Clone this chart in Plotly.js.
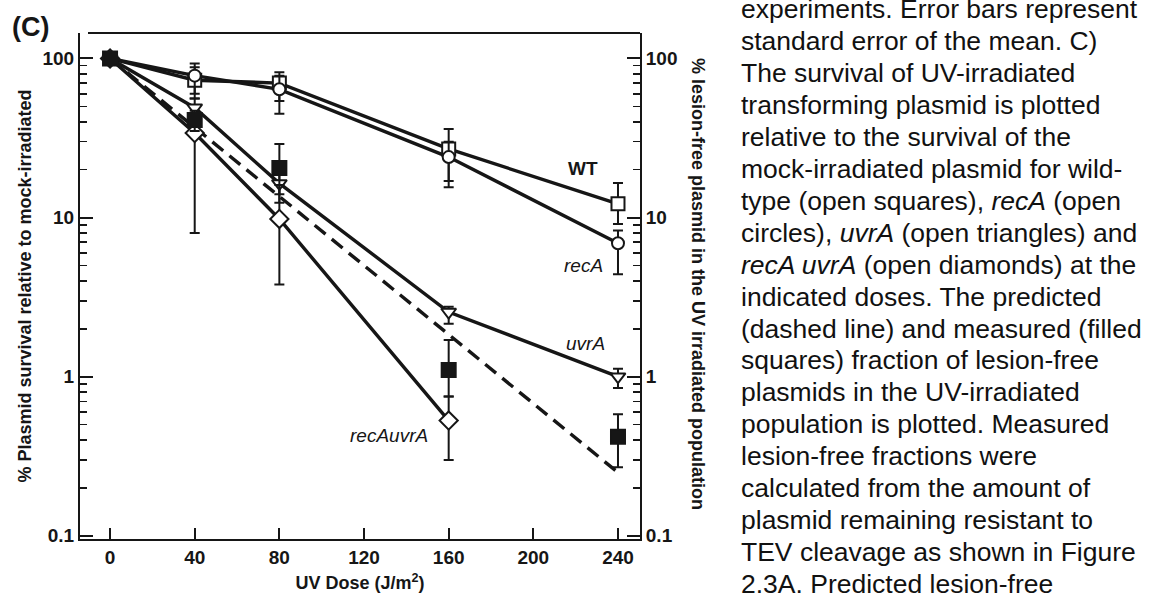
<!DOCTYPE html>
<html>
<head>
<meta charset="utf-8">
<script src="https://cdn.plot.ly/plotly-3.0.1.min.js"></script>
<style>
  html, body { margin: 0; padding: 0; background: #fff; }
  #chart { width: 1152px; height: 594px; }
</style>
</head>
<body>
<div id="chart"></div>
<script>
// ---------- data ----------
const doses = [0, 40, 80, 160, 240];
const dosesDouble = [0, 40, 80, 160];
const predictedDoses = [0, 240];

const wtSurvival = [100, 73, 70, 27, 12.2];
const wtUpper    = [104, 88, 82, 36, 16.5];
const wtLower    = [96, 60, 54, 17, 9.1];

const recASurvival = [100, 78, 64, 24, 6.9];
const recAUpper    = [104, 93, 78, 30, 8.3];
const recALower    = [96, 56, 45, 15.5, 4.4];

const uvrASurvival = [100, 49, 16.4, 2.55, 1.0];
const uvrAUpper    = [104, 56, 19, 2.75, 1.12];
const uvrALower    = [96, 43, 12.4, 2.15, 0.85];

const recAuvrASurvival = [100, 34, 9.8, 0.53];
const recAuvrAUpper    = [104, 45, 16, 0.75];
const recAuvrALower    = [96, 8, 3.8, 0.3];

const measuredLesionFree = [100, 41, 20.5, 1.1, 0.42];
const measuredUpper      = [104, 47, 29, 1.7, 0.58];
const measuredLower      = [96, 35, 14, 0.75, 0.27];

const predictedLesionFree = [100, 0.25];

const xTickVals = [0, 40, 80, 120, 160, 200, 240];

const captionLines = [
  "experiments. Error bars represent",
  "standard error of the mean. C)",
  "The survival of UV-irradiated",
  "transforming plasmid is plotted",
  "relative to the survival of the",
  "mock-irradiated plasmid for wild-",
  "type (open squares), <i>recA</i> (open",
  "circles), <i>uvrA</i> (open triangles) and",
  "<i>recA uvrA</i> (open diamonds) at the",
  "indicated doses. The predicted",
  "(dashed line) and measured (filled",
  "squares) fraction of lesion-free",
  "plasmids in the UV-irradiated",
  "population is plotted. Measured",
  "lesion-free fractions were",
  "calculated from the amount of",
  "plasmid remaining resistant to",
  "TEV cleavage as shown in Figure",
  "2.3A. Predicted lesion-free"
];

// ---------- layout helpers ----------
const ML = 80, MR = 512, MT = 33, MB = 55, W = 1152, H = 594;
const PW = W - ML - MR, PH = H - MT - MB;
const px = x => (x - ML) / PW;
const py = y => (H - MB - y) / PH;

const FONT = "Liberation Sans, Arial, Helvetica, sans-serif";
const INK = "#161616";
const TXT = 19;

function errs(vals, up, lo) {
  return {
    type: 'data', symmetric: false,
    array: vals.map((v, i) => up[i] - v),
    arrayminus: vals.map((v, i) => v - lo[i]),
    color: INK, thickness: 2, width: 5
  };
}

function series(name, xs, ys, up, lo, symbol, size, fill, withLine) {
  return {
    name: name, x: xs, y: ys, type: 'scatter',
    mode: withLine ? 'lines+markers' : 'markers',
    line: { color: INK, width: 3.4 },
    marker: { symbol: symbol, size: size, color: fill, line: { color: INK, width: 2 } },
    error_y: errs(ys, up, lo),
    cliponaxis: false,
    showlegend: false
  };
}

const traces = [
  {
    name: 'predicted', x: predictedDoses, y: predictedLesionFree, type: 'scatter',
    mode: 'lines', line: { color: INK, width: 3.4, dash: '14px,8px' }, showlegend: false
  },
  series('WT', doses, wtSurvival, wtUpper, wtLower, 'square', 13, '#fff', true),
  series('recA', doses, recASurvival, recAUpper, recALower, 'circle', 12, '#fff', true),
  series('uvrA', doses, uvrASurvival, uvrAUpper, uvrALower, 'triangle-down', 13, '#fff', true),
  series('recAuvrA', dosesDouble, recAuvrASurvival, recAuvrAUpper, recAuvrALower, 'diamond', 14, '#fff', true),
  series('measured lesion-free', doses, measuredLesionFree, measuredUpper, measuredLower, 'square', 14, INK, false)
];

const annotations = [
  { text: '<b>(C)</b>', x: px(30), y: py(27), font: { size: 27 } },
  { text: '<b>WT</b>', x: px(583), y: py(168), font: { size: TXT } },
  { text: '<i>recA</i>', x: px(583), y: py(265), font: { size: TXT } },
  { text: '<i>uvrA</i>', x: px(585), y: py(343), font: { size: TXT } },
  { text: '<i>recAuvrA</i>', x: px(389), y: py(435), font: { size: TXT } },
  { text: '<b>% lesion-free plasmid in the UV irradiated population</b>', x: px(698), y: py(284),
    textangle: 90, font: { size: 18 } }
].map(a => Object.assign({ xref: 'paper', yref: 'paper', showarrow: false,
  xanchor: 'center', yanchor: 'middle' }, a, { font: Object.assign({ family: FONT, color: INK }, a.font) }));

captionLines.forEach((t, i) => {
  const baseline = 18.5 + i * 31.9;
  annotations.push({
    text: t, xref: 'paper', yref: 'paper', x: px(739), y: py(baseline - 9),
    xanchor: 'left', yanchor: 'middle', showarrow: false,
    font: { family: FONT, size: 26.5, color: '#111' }
  });
});

const yCommon = {
  type: 'log', range: [-1.02, 2.16], dtick: 1,
  ticks: 'inside', ticklen: 13, tickwidth: 2, tickcolor: INK,
  minor: { ticks: 'inside', ticklen: 7, tickwidth: 1.5, tickcolor: INK, dtick: 'D1' },
  showgrid: false, zeroline: false, showline: true, linecolor: INK, linewidth: 2,
  tickfont: { family: FONT, size: TXT, color: INK, weight: 'bold' }
};

const layout = {
  width: W, height: H,
  margin: { l: ML, r: MR, t: MT, b: MB, pad: 0 },
  paper_bgcolor: '#fff', plot_bgcolor: '#fff',
  font: { family: FONT, color: INK },
  xaxis: {
    range: [-14.2, 250.4], tickvals: xTickVals,
    ticks: 'inside', ticklen: 11, tickwidth: 2, tickcolor: INK,
    showgrid: false, zeroline: false, showline: true, linecolor: INK, linewidth: 2,
    tickfont: { family: FONT, size: TXT, color: INK, weight: 'bold' },
    title: { text: '<b>UV Dose (J/m<sup>2</sup>)</b>', font: { family: FONT, size: 18, color: INK }, standoff: 10 },
    automargin: false
  },
  yaxis: Object.assign({}, yCommon, {
    side: 'left',
    title: { text: '<b>% Plasmid survival relative to mock-irradiated</b>', font: { family: FONT, size: 18, color: INK }, standoff: 6 },
    automargin: false
  }),
  yaxis2: Object.assign({}, yCommon, { side: 'right', overlaying: 'y', automargin: false }),
  shapes: [
    { type: 'line', xref: 'paper', yref: 'paper', x0: px(88), x1: 1, y0: 1, y1: 1,
      line: { color: INK, width: 2 } }
  ],
  annotations: annotations
};

// invisible trace so the right-hand axis is drawn
traces.push({ x: [0], y: [1], yaxis: 'y2', type: 'scatter', mode: 'markers',
  marker: { opacity: 0 }, hoverinfo: 'skip', showlegend: false });

Plotly.newPlot('chart', traces, layout, { displayModeBar: false, staticPlot: true });
</script>
</body>
</html>
